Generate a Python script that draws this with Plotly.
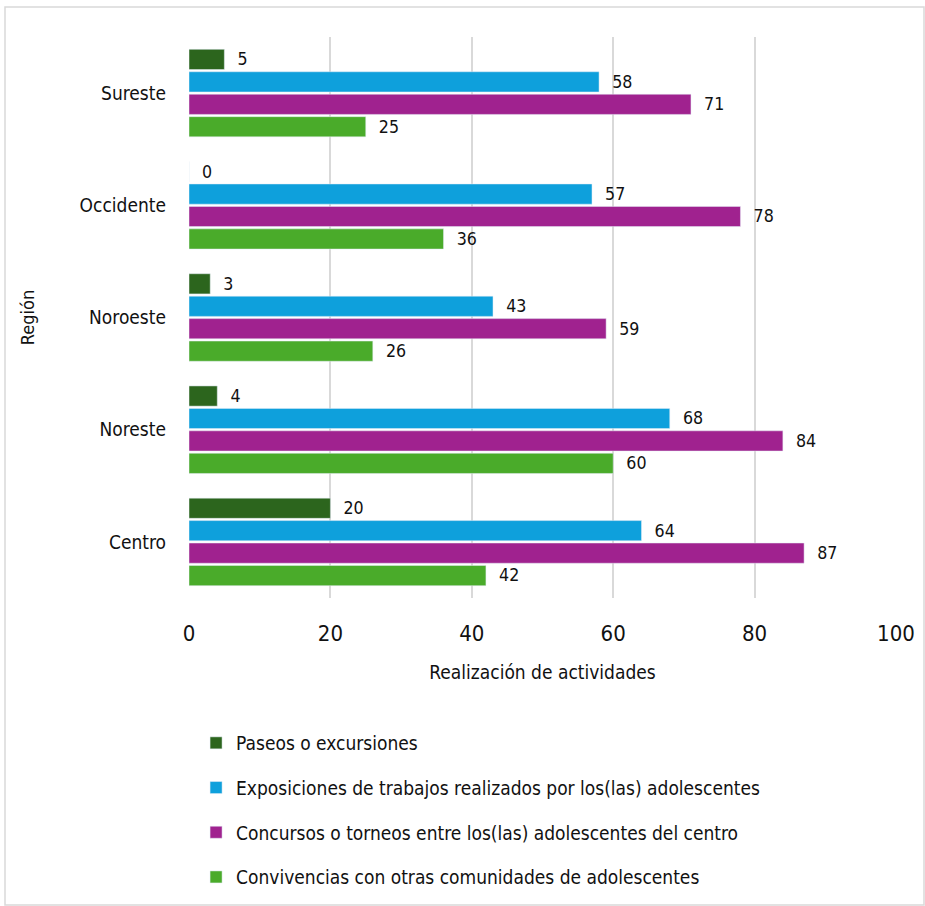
import plotly.graph_objects as go

regions = ["Centro", "Noreste", "Noroeste", "Occidente", "Sureste"]
paseos = [20, 4, 3, 0, 5]
exposiciones = [64, 68, 43, 57, 58]
concursos = [87, 84, 59, 78, 71]
convivencias = [42, 60, 26, 36, 25]

series = [
    ("Convivencias con otras comunidades de adolescentes", convivencias, "#4aab2a", 4),
    ("Concursos o torneos entre los(las) adolescentes del centro", concursos, "#a0228f", 3),
    ("Exposiciones de trabajos realizados por los(las) adolescentes", exposiciones, "#0ea0dc", 2),
    ("Paseos o excursiones", paseos, "#2c651d", 1),
]

FONT = "Liberation Sans Narrow, DejaVu Sans Condensed, Roboto Condensed, Liberation Sans, sans-serif"

fig = go.Figure()
for name, vals, color, rank in series:
    fig.add_trace(go.Bar(
        y=regions, x=vals, name=name, orientation="h",
        marker=dict(color=color),
        text=["  " + str(v) for v in vals], textposition="outside",
        textfont=dict(size=21, color="#111111", family=FONT),
        cliponaxis=False, legendgroup=str(rank), legendrank=rank,
    ))

W, H = 925, 906
ml, mr, mt, mb = 189, 29, 37, 308
pw, ph = W - ml - mr, H - mt - mb

fig.update_layout(
    width=W, height=H,
    margin=dict(l=ml, r=mr, t=mt, b=mb, autoexpand=False),
    barmode="group", bargap=0.2, bargroupgap=0.1,
    plot_bgcolor="white", paper_bgcolor="white",
    font=dict(family=FONT, color="#111111", size=18),
    xaxis=dict(range=[0, 100], dtick=20, showgrid=True, gridcolor="#d9d9d9", gridwidth=1.5,
               zeroline=False, showline=False, tickfont=dict(size=22),
               ticks="", ticklen=0, ticklabelstandoff=20,
               title=dict(text="Realización de actividades", font=dict(size=19), standoff=20)),
    yaxis=dict(showgrid=False, showline=False, tickfont=dict(size=19), ticklabelstandoff=22,
               title=dict(text="Región", font=dict(size=18), standoff=40)),
    legend=dict(orientation="v", x=0.01, y=-(724 - (H - mb)) / ph, xanchor="left", yanchor="top",
                tracegroupgap=17, font=dict(size=19), bgcolor="rgba(0,0,0,0)"),
    shapes=[dict(type="rect", xref="paper", yref="paper",
                 x0=(5 - ml) / pw, x1=(W - 1 - ml) / pw,
                 y0=-(H - 1 - (H - mb)) / ph, y1=(H - mb - 7) / ph,
                 line=dict(color="#d9d9d9", width=1.5), layer="below")],
)

fig.write_html("out.html")
